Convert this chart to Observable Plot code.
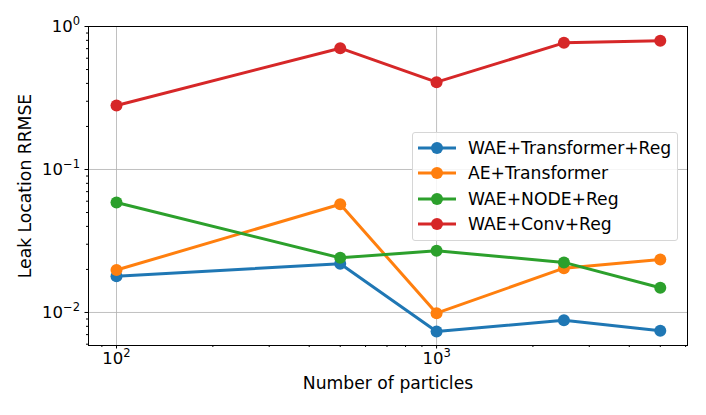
<!DOCTYPE html>
<html>
<head>
<meta charset="utf-8">
<script src="https://cdn.jsdelivr.net/npm/d3@7"></script>
<script src="https://cdn.jsdelivr.net/npm/@observablehq/plot@0.6"></script>
<style>
  body { margin: 0; background: white; font-family: "DejaVu Sans", sans-serif; }
  #wrap { position: relative; width: 706px; height: 415px; }
  #legend { position: absolute; left: 412px; top: 132px; width: 264px; height: 105px;
            border: 1px solid #d6d6d6; border-radius: 3px; background: rgba(255,255,255,0.85);
            box-sizing: content-box; padding-top: 2px; }
  .row { display: flex; align-items: center; height: 25.5px; font-size: 17.2px; color: black; white-space: nowrap; }
  .row svg { margin-left: 5px; margin-right: 12px; }
</style>
</head>
<body>
<div id="wrap"></div>
<script>
const particles = [100, 500, 1000, 2500, 5000];
const seriesNames = ["WAE+Transformer+Reg", "AE+Transformer", "WAE+NODE+Reg", "WAE+Conv+Reg"];
const seriesColors = ["#1f77b4", "#ff7f0e", "#2ca02c", "#d62728"];
const waeTransformerReg = [0.0179, 0.0219, 0.00736, 0.00883, 0.00745];
const aeTransformer = [0.0198, 0.0571, 0.00989, 0.0204, 0.0235];
const waeNodeReg = [0.0588, 0.0241, 0.0270, 0.0224, 0.0149];
const waeConvReg = [0.280, 0.705, 0.408, 0.769, 0.794];
const xMajor = [100, 1000];
const yMajor = [0.01, 0.1, 1];
const xMinor = [90, 200, 300, 400, 500, 600, 700, 800, 900, 2000, 3000, 4000, 5000, 6000];
const yMinor = [0.006, 0.007, 0.008, 0.009, 0.02, 0.03, 0.04, 0.05, 0.06, 0.07, 0.08, 0.09,
                0.2, 0.3, 0.4, 0.5, 0.6, 0.7, 0.8, 0.9];

const allValues = [waeTransformerReg, aeTransformer, waeNodeReg, waeConvReg];
const rows = [];
seriesNames.forEach((s, i) => particles.forEach((p, j) => rows.push({series: s, x: p, y: allValues[i][j]})));

const fmt = d => "10^" + String(Math.round(Math.log10(d))).replace("-", "\u2212");

const seriesMarks = seriesNames.flatMap((s, i) => {
  const d = rows.filter(r => r.series === s);
  return [
    Plot.line(d, {x: "x", y: "y", stroke: seriesColors[i], strokeWidth: 3}),
    Plot.dot(d, {x: "x", y: "y", fill: seriesColors[i], r: 6})
  ];
});

const chart = Plot.plot({
  width: 706,
  height: 415,
  marginLeft: 88,
  marginRight: 19,
  marginTop: 26,
  marginBottom: 70,
  style: {fontFamily: "DejaVu Sans", fontSize: "16.5px", color: "black", background: "white"},
  x: {type: "log", domain: [Math.pow(10, 1.9125), Math.pow(10, 3.784)]},
  y: {type: "log", domain: [Math.pow(10, -2.231), 1]},
  marks: [
    Plot.gridX(xMajor, {stroke: "#b0b0b0", strokeOpacity: 0.8, strokeWidth: 1}),
    Plot.gridY(yMajor, {stroke: "#b0b0b0", strokeOpacity: 0.8, strokeWidth: 1}),
    ...seriesMarks,
    Plot.frame({stroke: "black", strokeWidth: 1}),
    Plot.axisX(xMajor, {tickSize: 3.5, tickPadding: 3.5, tickFormat: fmt, fontSize: 16.5, stroke: "black", fill: "black", label: null}),
    Plot.axisX(xMinor, {tickSize: 2, tickFormat: () => "", stroke: "black", label: null}),
    Plot.axisY(yMajor, {tickSize: 3.5, tickPadding: 5, tickFormat: fmt, fontSize: 16.5, stroke: "black", fill: "black", label: null}),
    Plot.axisY(yMinor, {tickSize: 2, tickFormat: () => "", stroke: "black", label: null}),
    Plot.text(["Number of particles"], {frameAnchor: "bottom", lineAnchor: "bottom", dy: 43, text: d => d, fontSize: 17.2, fill: "black"}),
    Plot.text(["Leak Location RRMSE"], {frameAnchor: "left", lineAnchor: "middle", textAnchor: "middle", rotate: -90, dx: -63, text: d => d, fontSize: 17.2, fill: "black"})
  ]
});

// render "10^n" tick labels as base with a raised, smaller exponent
d3.select(chart).selectAll("text").each(function() {
  const t = this.textContent;
  if (/^10\^/.test(t) && this.children.length === 0) {
    const exp = t.slice(3);
    const el = d3.select(this);
    el.text(null);
    el.append("tspan").text("10");
    el.append("tspan").attr("font-size", "11.5px").attr("dy", "-7").text(exp);
  }
});

const wrap = document.getElementById("wrap");
wrap.appendChild(chart);

const legend = document.createElement("div");
legend.id = "legend";
seriesNames.forEach((s, i) => {
  const row = document.createElement("div");
  row.className = "row";
  row.innerHTML = `<svg width="38" height="14"><line x1="0" y1="7" x2="38" y2="7" stroke="${seriesColors[i]}" stroke-width="3"/><circle cx="19" cy="7" r="6" fill="${seriesColors[i]}"/></svg><span>${s}</span>`;
  legend.appendChild(row);
});
wrap.appendChild(legend);
</script>
</body>
</html>
